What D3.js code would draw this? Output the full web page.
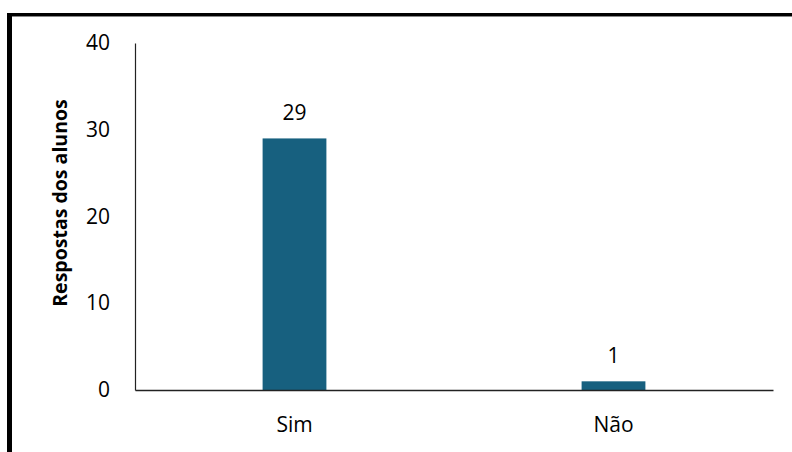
<!DOCTYPE html>
<html>
<head>
<meta charset="utf-8">
<script src="https://cdn.jsdelivr.net/npm/d3@7"></script>
<style>
  html, body { margin: 0; padding: 0; background: #fff; }
  svg { display: block; }
</style>
</head>
<body>
<svg id="chart" width="792" height="452"></svg>
<script>
// Survey answers
const categories = ["Sim", "Não"];
const values = [29, 1];
const yTicks = [0, 10, 20, 30, 40];
const yTitle = "Respostas dos alunos";

const svg = d3.select("#chart");
const W = 792, H = 452;
const font = "'Open Sans', 'Noto Sans', sans-serif";

// Frame around the chart area (runs off the right and bottom of the page)
svg.append("rect").attr("x", 0).attr("y", 0).attr("width", W).attr("height", H).attr("fill", "#fff");
svg.append("line").attr("x1", 7).attr("x2", W).attr("y1", 14.5).attr("y2", 14.5)
  .attr("stroke", "#000").attr("stroke-width", 3);
svg.append("line").attr("x1", 7).attr("x2", W).attr("y1", 16.5).attr("y2", 16.5)
  .attr("stroke", "#888").attr("stroke-width", 1);
svg.append("line").attr("x1", 9.5).attr("x2", 9.5).attr("y1", 13).attr("y2", H)
  .attr("stroke", "#000").attr("stroke-width", 5);

const plot = { left: 135, right: 773, top: 43, bottom: 390 };

const x = d3.scaleBand().domain(categories).range([plot.left, plot.right]).paddingInner(0.8).paddingOuter(0.4);
const y = d3.scaleLinear().domain([0, 40]).range([plot.bottom, plot.top]);

// Bars
svg.append("g").selectAll("rect").data(values).join("rect")
  .attr("x", (d, i) => x(categories[i]))
  .attr("width", x.bandwidth())
  .attr("y", d => y(d))
  .attr("height", d => y(0) - y(d))
  .attr("fill", "#17607f");

// Value labels
svg.append("g").selectAll("text").data(values).join("text")
  .attr("x", (d, i) => x(categories[i]) + x.bandwidth() / 2)
  .attr("y", d => y(d) - 18)
  .attr("text-anchor", "middle")
  .attr("font-family", font).attr("font-size", 21).attr("fill", "#000")
  .text(d => d);

// Y axis
const yAxis = svg.append("g").attr("transform", `translate(${plot.left},0)`)
  .call(d3.axisLeft(y).tickValues(yTicks).tickSize(0).tickPadding(25));
yAxis.select(".domain").attr("stroke", "#222").attr("stroke-width", 1.2);
yAxis.selectAll("text").attr("font-family", font).attr("font-size", 21).attr("fill", "#000");

// X axis
const xAxis = svg.append("g").attr("transform", `translate(0,${plot.bottom})`)
  .call(d3.axisBottom(x).tickSize(0).tickPadding(27));
xAxis.select(".domain").attr("stroke", "#222").attr("stroke-width", 1.6);
xAxis.selectAll("text").attr("font-family", font).attr("font-size", 21).attr("fill", "#000");

// Y axis title
svg.append("text")
  .attr("transform", `translate(67,203) rotate(-90)`)
  .attr("text-anchor", "middle")
  .attr("font-family", font).attr("font-size", 19.5).attr("font-weight", "bold").attr("fill", "#000")
  .text(yTitle);
</script>
</body>
</html>
